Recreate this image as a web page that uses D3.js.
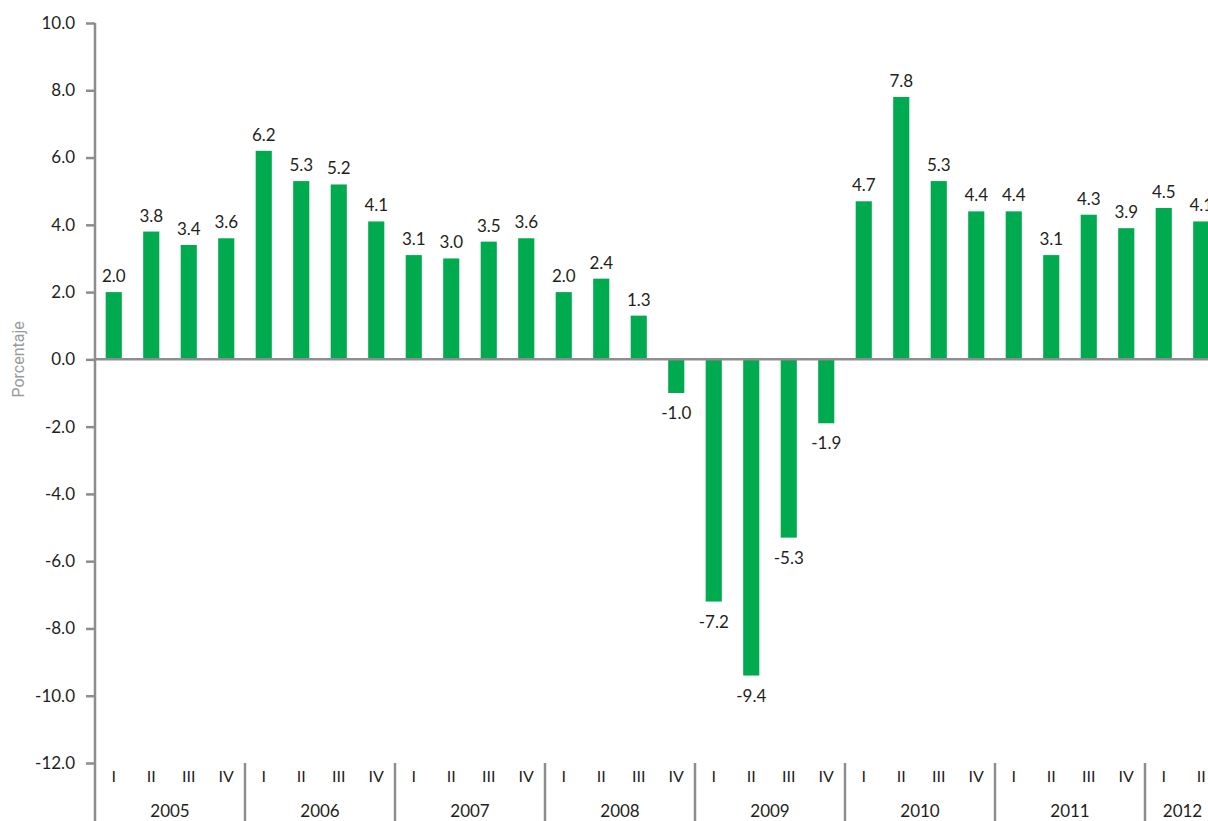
<!DOCTYPE html>
<html>
<head>
<meta charset="utf-8">
<script src="https://cdn.jsdelivr.net/npm/d3@7"></script>
<style>
  body { margin: 0; background: #fff; }
  text { font-family: Lato, "Noto Sans", sans-serif; fill: #231f20; }
</style>
</head>
<body>
<div class="canvas"></div>
<script>
// data
const years = ['2005', '2006', '2007', '2008', '2009', '2010', '2011', '2012'];
const quarterNames = ['I', 'II', 'III', 'IV'];
const values = [
  2.0, 3.8, 3.4, 3.6,
  6.2, 5.3, 5.2, 4.1,
  3.1, 3.0, 3.5, 3.6,
  2.0, 2.4, 1.3, -1.0,
  -7.2, -9.4, -5.3, -1.9,
  4.7, 7.8, 5.3, 4.4,
  4.4, 3.1, 4.3, 3.9,
  4.5, 4.1
];
const yTicks = [10, 8, 6, 4, 2, 0, -2, -4, -6, -8, -10, -12];

const data = values.map((v, i) => ({
  key: i,
  year: years[Math.floor(i / 4)],
  q: quarterNames[i % 4],
  value: v
}));

const dims = { width: 1208, height: 821 };
const axisX = 95;
const step = 37.5;
// hyphen instead of unicode minus, like the original
const fmt = d => d3.format('.1f')(d).replace('\u2212', '-');

const svg = d3.select('.canvas')
  .append('svg')
  .attr('width', dims.width)
  .attr('height', dims.height);

const x = d3.scaleBand()
  .domain(data.map(d => d.key))
  .range([axisX, axisX + step * 30])
  .paddingInner(0.57)
  .paddingOuter(0.285);

const y = d3.scaleLinear()
  .domain([-12, 10])
  .range([763, 23]);

const axisColour = '#8d8d8f';

// bars
svg.selectAll('rect.bar')
  .data(data)
  .enter()
  .append('rect')
    .attr('class', 'bar')
    .attr('x', d => x(d.key))
    .attr('width', x.bandwidth())
    .attr('y', d => y(Math.max(0, d.value)))
    .attr('height', d => Math.abs(y(d.value) - y(0)))
    .attr('fill', '#00ab4f');

// zero line
svg.append('line')
  .attr('x1', axisX).attr('x2', dims.width)
  .attr('y1', y(0)).attr('y2', y(0))
  .attr('stroke', axisColour)
  .attr('stroke-width', 2.5);

// y axis
const yAxis = svg.append('g')
  .attr('transform', `translate(${axisX}, 0)`)
  .call(d3.axisLeft(y).tickValues(yTicks).tickFormat(fmt).tickSize(9).tickPadding(11));

yAxis.select('.domain').remove();
yAxis.selectAll('.tick line')
  .attr('stroke', axisColour)
  .attr('stroke-width', 2.5);
yAxis.selectAll('.tick text')
  .attr('font-size', 17)
  .attr('font-family', 'Lato, sans-serif')
  .attr('fill', '#231f20');

svg.append('line')
  .attr('x1', axisX).attr('x2', axisX)
  .attr('y1', y(10)).attr('y2', dims.height)
  .attr('stroke', axisColour)
  .attr('stroke-width', 2.5);

// y axis title
svg.append('text')
  .attr('transform', `translate(24, ${y(0)}) rotate(-90)`)
  .attr('text-anchor', 'middle')
  .attr('font-size', 16)
  .style('font-family', 'Roboto, sans-serif')
  .style('fill', '#9a9a9a')
  .text('Porcentaje');

// value labels
svg.selectAll('text.val')
  .data(data)
  .enter()
  .append('text')
    .attr('class', 'val')
    .attr('x', d => x(d.key) + x.bandwidth() / 2)
    .attr('y', d => d.value >= 0 ? y(d.value) - 10 : y(d.value) + 26)
    .attr('text-anchor', 'middle')
    .attr('font-size', 17)
    .text(d => fmt(d.value));

// quarter labels
svg.selectAll('text.q')
  .data(data)
  .enter()
  .append('text')
    .attr('class', 'q')
    .attr('x', d => x(d.key) + x.bandwidth() / 2)
    .attr('y', 782)
    .attr('text-anchor', 'middle')
    .attr('font-size', 16)
    .text(d => d.q);

// year separators and labels
years.forEach((yr, i) => {
  const start = axisX + i * 4 * step;
  if (i > 0) {
    svg.append('line')
      .attr('x1', start).attr('x2', start)
      .attr('y1', 763).attr('y2', dims.height)
      .attr('stroke', axisColour)
      .attr('stroke-width', 2.5);
  }
  const n = data.filter(d => d.year === yr).length;
  svg.append('text')
    .attr('x', start + n * step / 2)
    .attr('y', 817)
    .attr('text-anchor', 'middle')
    .attr('font-size', 17)
    .text(yr);
});
</script>
</body>
</html>
